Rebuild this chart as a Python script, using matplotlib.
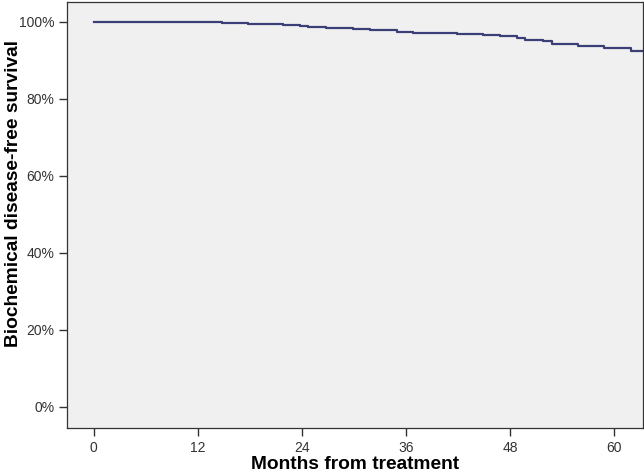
import matplotlib
matplotlib.use("Agg")
import matplotlib.pyplot as plt
from matplotlib.ticker import FuncFormatter

# Kaplan-Meier style estimate
months = [0, 14.8, 17.8, 21.8, 23.8, 24.7, 26.8, 29.9, 31.8, 34.9, 36.8,
          41.9, 44.9, 46.8, 48.8, 49.7, 51.8, 52.8, 55.8, 58.8, 61.9, 63.3]
survival = [100, 99.74, 99.48, 99.33, 99.07, 98.8, 98.55, 98.1, 97.85, 97.5, 97.15,
            96.9, 96.7, 96.3, 95.9, 95.4, 95.1, 94.2, 93.65, 93.2, 92.4, 92.4]

x_ticks = [0, 12, 24, 36, 48, 60]
y_ticks = [0, 20, 40, 60, 80, 100]

plt.rcParams["font.family"] = ["Liberation Sans", "DejaVu Sans"]

fig = plt.figure(figsize=(6.44, 4.72), dpi=100)
ax = fig.add_axes([0.104, 0.0932, 0.8945, 0.9026])
ax.set_facecolor("#f0f0f0")

ax.step(months, survival, where="post", color="#3b3f78", linewidth=1.6)

ax.set_xlim(-3.1, 63.3)
ax.set_ylim(-5.5, 105.2)
ax.set_xticks(x_ticks)
ax.set_yticks(y_ticks)
ax.yaxis.set_major_formatter(FuncFormatter(lambda v, _: f"{v:.0f}%"))

ax.tick_params(axis="both", direction="out", length=6, width=1, color="#333333",
               labelsize=10, labelcolor="#333333")
ax.tick_params(axis="y", pad=3)
ax.tick_params(axis="x", pad=3)
for s in ax.spines.values():
    s.set_color("#333333")
    s.set_linewidth(0.9)

ax.set_xlabel("Months from treatment", fontsize=13.8, fontweight="bold", color="black")
ax.set_ylabel("Biochemical disease-free survival", fontsize=13.8, fontweight="bold",
              color="black")
ax.xaxis.set_label_coords(0.5, -0.066)
ax.yaxis.set_label_coords(-0.078, 0.55)

fig.savefig("out.png", dpi=100)
